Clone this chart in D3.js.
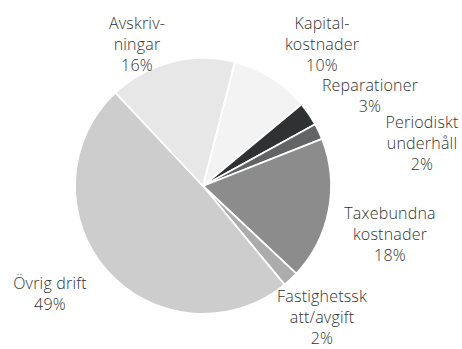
<!DOCTYPE html>
<html>
<head>
<meta charset="utf-8">
<script src="https://cdn.jsdelivr.net/npm/d3@7"></script>
<style>
  body { margin: 0; background: #fff; }
  #chart { width: 462px; height: 349px; }
  text { font-family: "Open Sans", sans-serif; font-size: 16px; font-weight: 300; fill: #333; letter-spacing: 0.2px; }
</style>
</head>
<body>
<div id="chart"></div>
<script>
// data
var categories = ["Kapitalkostnader", "Reparationer", "Periodiskt underhåll", "Taxebundna kostnader", "Fastighetsskatt/avgift", "Övrig drift", "Avskrivningar"];
var values = [10, 3, 2, 18, 2, 49, 16];
var labelLines = [
	["Kapital-", "kostnader", "10%"],
	["Reparationer", "3%"],
	["Periodiskt", "underhåll", "2%"],
	["Taxebundna", "kostnader", "18%"],
	["Fastighetssk", "att/avgift", "2%"],
	["Övrig drift", "49%"],
	["Avskriv-", "ningar", "16%"]
];
var fills = ["#f3f3f3", "#2f3132", "#626465", "#8c8c8c", "#acacac", "#cdcdcd", "#e7e7e7"];

// label anchor offsets from pie centre (x, y of first line centre)
var labelPos = [[119, -163], [167, -101], [219, -64], [187, 27], [119, 110], [-153, 97], [-66, -163]];

var width = 462,
	height = 349,
	cx = 203, cy = 186, radius = 128;

var svg = d3.select("#chart")
	.append("svg")
	.attr("width", width)
	.attr("height", height);

var data = categories.map((c, i) => ({ name: c, value: values[i], lines: labelLines[i], pos: labelPos[i], fill: fills[i] }));

var start = 14.4 * Math.PI / 180;
var pie = d3.pie()
	.sort(null)
	.value(d => d.value)
	.startAngle(start)
	.endAngle(start + 2 * Math.PI);

var arc = d3.arc().innerRadius(0).outerRadius(radius);

var g = svg.append("g").attr("transform", `translate(${cx},${cy})`);

g.selectAll("path")
	.data(pie(data))
	.enter()
	.append("path")
		.attr("d", arc)
		.attr("fill", d => d.data.fill)
		.attr("stroke", "#fff")
		.attr("stroke-width", 1.8)
		.attr("stroke-linejoin", "round");

/* LABELS */
var lineH = 21.3;
var labels = g.selectAll("text.label")
	.data(data)
	.enter()
	.append("text")
		.attr("class", "label")
		.attr("text-anchor", "middle")
		.attr("transform", d => `translate(${d.pos[0]},${d.pos[1]})`);

labels.selectAll("tspan")
	.data(d => d.lines)
	.enter()
	.append("tspan")
		.attr("x", 0)
		.attr("y", (d, i) => i * lineH)
		.attr("dy", "0.35em")
		.text(d => d);
</script>
</body>
</html>
